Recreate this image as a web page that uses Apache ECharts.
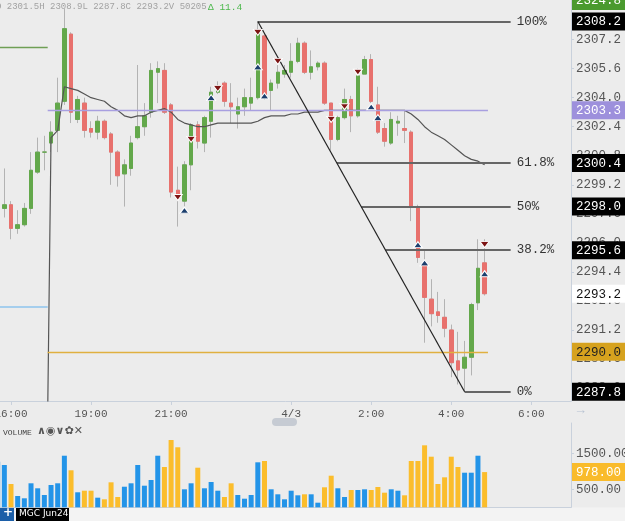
<!DOCTYPE html>
<html lang="en">
<head>
<meta charset="UTF-8">
<title>MGC Jun24 10 min</title>
<script src="https://cdn.jsdelivr.net/npm/echarts@6/dist/echarts.min.js"></script>
<style>
  html, body { margin: 0; padding: 0; background: #ececec; }
  #main { width: 625px; height: 521px; }
</style>
</head>
<body>
<div id="main"></div>
<script>
// 10 minute bars, index 0 = 15:40 (partly off screen), break 17:00-18:00 collapsed, session starts at index 8
var opens = [2296.0, 2297.9, 2298.1, 2296.8, 2297.0, 2297.9, 2299.9, 2301.0, 2301.5, 2302.2,
  2303.8, 2307.5, 2302.8, 2303.7, 2302.3, 2302.1, 2302.7, 2302.0, 2301.0, 2299.8,
  2300.1, 2301.8, 2302.4, 2303.2, 2305.4, 2305.5, 2303.6, 2298.9, 2298.3, 2300.3,
  2302.5, 2301.5, 2302.7, 2304.3, 2304.8, 2303.7, 2303.1, 2303.5, 2303.7, 2304.0,
  2307.4, 2304.4, 2304.8, 2305.3, 2305.4, 2306.0, 2307.0, 2305.4, 2305.7, 2305.9,
  2303.7, 2301.7, 2302.9, 2303.9, 2303.0, 2305.3, 2306.1, 2303.6, 2302.3, 2301.5,
  2302.6, 2302.3, 2302.1, 2298.0, 2294.8, 2292.9, 2292.2, 2291.9, 2291.2, 2289.5,
  2289.1, 2289.7, 2292.7, 2294.9];
var closes = [2297.8, 2298.1, 2296.8, 2297.0, 2297.9, 2300.0, 2301.0, 2301.0, 2302.1, 2303.7,
  2307.8, 2303.2, 2303.9, 2302.2, 2302.1, 2302.7, 2301.8, 2301.0, 2299.7, 2300.3,
  2301.5, 2302.4, 2303.0, 2305.5, 2305.6, 2303.2, 2298.8, 2298.5, 2300.3, 2302.5,
  2301.6, 2302.9, 2304.3, 2304.6, 2303.8, 2303.5, 2303.5, 2304.0, 2304.0, 2307.6,
  2304.1, 2304.8, 2305.4, 2305.5, 2306.0, 2307.0, 2305.4, 2305.7, 2305.9, 2303.7,
  2301.7, 2302.9, 2303.9, 2303.0, 2305.2, 2306.1, 2303.8, 2302.1, 2301.6, 2302.8,
  2302.7, 2302.2, 2298.0, 2295.2, 2293.0, 2292.1, 2292.0, 2291.3, 2289.4, 2289.0,
  2289.7, 2292.6, 2294.6, 2293.2];
var lows = [2295.8, 2297.4, 2296.2, 2296.5, 2296.9, 2297.6, 2299.8, 2300.0, 2301.0, 2301.0,
  2303.6, 2302.6, 2302.6, 2301.8, 2301.8, 2301.7, 2301.7, 2299.2, 2299.1, 2298.0,
  2299.7, 2301.7, 2301.9, 2302.9, 2303.7, 2303.1, 2298.5, 2296.9, 2298.0, 2298.9,
  2301.2, 2301.0, 2301.8, 2304.2, 2303.5, 2302.6, 2302.3, 2303.0, 2303.3, 2303.9,
  2303.9, 2303.3, 2304.5, 2305.1, 2305.1, 2305.9, 2305.3, 2305.0, 2305.5, 2303.6,
  2301.1, 2301.6, 2302.8, 2302.1, 2302.9, 2305.3, 2303.7, 2302.0, 2301.3, 2301.4,
  2301.9, 2301.5, 2297.2, 2294.9, 2290.5, 2291.4, 2291.6, 2290.8, 2288.6, 2288.2,
  2287.8, 2288.7, 2292.3, 2293.1];
var highs = [2298.1, 2300.1, 2298.3, 2297.8, 2298.2, 2301.0, 2301.8, 2301.9, 2302.7, 2305.1,
  2308.9, 2307.6, 2304.1, 2304.0, 2302.7, 2303.0, 2302.8, 2302.1, 2301.1, 2300.6,
  2301.9, 2305.8, 2303.7, 2305.9, 2306.0, 2305.9, 2303.7, 2300.2, 2300.5, 2302.6,
  2302.7, 2303.0, 2304.6, 2304.9, 2304.9, 2304.8, 2304.0, 2304.5, 2305.1, 2308.2,
  2307.5, 2305.0, 2305.8, 2305.8, 2307.0, 2307.3, 2307.1, 2306.6, 2306.0, 2306.0,
  2303.7, 2303.0, 2304.5, 2304.1, 2305.6, 2306.3, 2306.4, 2304.6, 2302.6, 2303.2,
  2303.0, 2303.3, 2302.2, 2298.1, 2295.6, 2294.0, 2293.3, 2292.9, 2291.5, 2291.1,
  2290.6, 2292.7, 2296.2, 2296.2];
var volumes = [1267, 1175, 647, 314, 250, 667, 528, 342, 619, 667,
  1433, 1028, 417, 461, 461, 267, 222, 694, 286, 572,
  667, 1175, 600, 758, 1433, 1119, 1869, 1667, 500, 667,
  1100, 528, 703, 461, 286, 667, 342, 239, 342, 1250,
  1286, 500, 361, 222, 461, 333, 361, 361, 128, 556,
  878, 528, 286, 481, 481, 500, 481, 564, 406, 500,
  461, 333, 1286, 1286, 1722, 1406, 647, 833, 1406, 1119,
  961, 961, 1433, 978];
// session vwap (first point is where the line comes up from below)
var vwap = [null, null, null, null, null, null, null, 2271.6, 2301.8, 2302.2,
  2304.6, 2304.5, 2304.4, 2304.2, 2304.0, 2303.9, 2303.8, 2303.5, 2303.3, 2303.0,
  2302.9, 2303.0, 2303.0, 2303.2, 2303.3, 2303.4, 2303.2, 2302.8, 2302.6, 2302.5,
  2302.4, 2302.4, 2302.5, 2302.6, 2302.6, 2302.6, 2302.6, 2302.6, 2302.6, 2302.7,
  2302.9, 2303.0, 2303.0, 2303.0, 2303.1, 2303.1, 2303.2, 2303.2, 2303.2, 2303.3,
  2303.3, 2303.3, 2303.3, 2303.3, 2303.3, 2303.3, 2303.3, 2303.3, 2303.3, 2303.3,
  2303.3, 2303.3, 2303.1, 2302.8, 2302.4, 2302.1, 2301.9, 2301.7, 2301.4, 2301.1,
  2300.8, 2300.6, 2300.5, 2300.3];

// signal arrows
var upArrowIdx = [28, 32, 39, 40, 56, 57, 63, 64, 73];
var upArrowPrice = [2297.8, 2304.0, 2305.7, 2304.1, 2303.5, 2302.9, 2295.9, 2294.9, 2294.3];
var downArrowIdx = [27, 29, 33, 39, 42, 50, 52, 54, 73];
var downArrowPrice = [2298.5, 2301.7, 2304.5, 2307.6, 2306.0, 2302.8, 2303.5, 2305.4, 2295.9];

// fib retracement, drawn from the high bar to the low bar
var fibHighIdx = 39, fibLowIdx = 70;
var fibLevels = [2308.2, 2300.4, 2298.0, 2295.6, 2287.8];
var fibNames = ['100%', '61.8%', '50%', '38.2%', '0%'];

// other horizontal levels
var prevHigh = 2306.8, prevLow = 2292.5;
var purpleLevel = 2303.3, goldLevel = 2290.0;

// axis
var timeTickIdx = [2, 14, 26, 44, 56, 68, 80];
var timeTickLabels = ['16:00', '19:00', '21:00', '4/3', '2:00', '4:00', '6:00'];
var priceTicks = [2288.0, 2289.6, 2291.2, 2292.8, 2294.4, 2296.0, 2297.6, 2299.2,
  2300.8, 2302.4, 2304.0, 2305.6, 2307.2];
var volTicks = [500, 1000, 1500];
var tagValues = [2308.2, 2303.3, 2300.4, 2298.0, 2295.6, 2293.2, 2290.0, 2287.8];
var tagKinds = ['k', 'p', 'k', 'k', 'k', 'w', 'g', 'k'];
var offChartTag = '2324.8';
var lastVolTag = 978;
var sessionVol = 50205, changeText = '\u0394 11.4';

var sessionStart = 8;
var mono = '"Liberation Mono", "DejaVu Sans Mono", monospace';
var UP = '#63a84b', DOWN = '#e8716d', WICK = '#b3b3b3';

var wickData = [], bodyData = [], volData = [], vwapData = [];
for (var i = 0; i < opens.length; i++) {
  wickData.push([i, opens[i], closes[i], lows[i], highs[i]]);
  bodyData.push([i, opens[i], closes[i], Math.min(opens[i], closes[i]), Math.max(opens[i], closes[i])]);
  var up = closes[i] >= opens[i];
  volData.push({ value: [i, volumes[i]], itemStyle: { color: up ? '#2394e8' : '#fbbd2c' } });
  vwapData.push([i, vwap[i]]);
}
var upData = upArrowIdx.map(function (k, j) { return [k, upArrowPrice[j]]; });
var downData = downArrowIdx.map(function (k, j) { return [k, downArrowPrice[j]]; });

var sH = Math.max.apply(null, highs.slice(sessionStart));
var sL = Math.min.apply(null, lows.slice(sessionStart));
var headerText = 'O ' + opens[sessionStart].toFixed(1) + 'H ' + sH.toFixed(1) + 'L ' + sL.toFixed(1) +
  'C ' + closes[closes.length - 1].toFixed(1) + 'V ' + sessionVol;

var xMin = 0.35, xMax = 85.95;
var yMin = 2287.29, yMax = 2309.38;

function seg(x1, y1, x2, y2, color, width, name) {
  return [{ coord: [x1, y1], name: name || '', lineStyle: { color: color, width: width, type: 'solid' } },
          { coord: [x2, y2] }];
}
var levelLines = [];
var breakIdx = 7.5, endIdx = 73.5, fibEnd = 76.9;
levelLines.push(seg(xMin, prevHigh, breakIdx, prevHigh, '#6f9f55', 1.3));
levelLines.push(seg(xMin, prevLow, breakIdx, prevLow, '#8ec4ee', 1.5));
levelLines.push(seg(breakIdx, purpleLevel, endIdx, purpleLevel, '#a89fe0', 1.3));
levelLines.push(seg(breakIdx, goldLevel, endIdx, goldLevel, '#e0b040', 1.3));
var fHi = fibLevels[0], fLo = fibLevels[fibLevels.length - 1];
fibLevels.forEach(function (lv, j) {
  var startK = fibHighIdx + (fibLowIdx - fibHighIdx) * (fHi - lv) / (fHi - fLo);
  levelLines.push(seg(startK, lv, fibEnd, lv, '#666', 1.8, fibNames[j]));
});
levelLines.push(seg(fibHighIdx, fHi, fibLowIdx, fLo, '#222', 1.2));

var tagRich = {
  k: { backgroundColor: '#000', color: '#fff' },
  p: { backgroundColor: '#9d90dc', color: '#fff' },
  w: { backgroundColor: '#fff', color: '#111' },
  g: { backgroundColor: '#d6a21e', color: '#222' },
  v: { backgroundColor: '#f9bb2b', color: '#fff' }
};
Object.keys(tagRich).forEach(function (key) {
  tagRich[key].fontFamily = mono;
  tagRich[key].fontSize = 12.5;
  tagRich[key].padding = [3, 4, 2, 4];
});

var chart = echarts.init(document.getElementById('main'));
var option = {
  backgroundColor: '#ececec',
  animation: false,
  grid: [
    { left: 0, right: 54, top: 0, height: 401, containLabel: false, outerBoundsMode: 'none' },
    { left: 0, right: 54, top: 423, height: 84.3, containLabel: false, outerBoundsMode: 'none' }
  ],
  xAxis: [
    {
      type: 'value', gridIndex: 0, min: xMin, max: xMax,
      axisLine: { show: true, lineStyle: { color: '#c9d1dc' } },
      axisTick: { show: true, length: 4, customValues: timeTickIdx, lineStyle: { color: '#c9d1dc' } },
      axisLabel: {
        customValues: timeTickIdx, color: '#555', fontFamily: mono, fontSize: 11, margin: 8,
        formatter: function (v) { return timeTickLabels[timeTickIdx.indexOf(v)] || ''; }
      },
      splitLine: { show: false }
    },
    {
      type: 'value', gridIndex: 1, min: xMin, max: xMax, position: 'top',
      axisLine: { show: true, lineStyle: { color: '#c9d1dc' } },
      axisTick: { show: false }, axisLabel: { show: false }, splitLine: { show: false }
    }
  ],
  yAxis: [
    {
      type: 'value', gridIndex: 0, position: 'right', min: yMin, max: yMax,
      axisLine: { show: true, lineStyle: { color: '#c9d1dc' } },
      axisTick: { show: true, length: 3, customValues: priceTicks, lineStyle: { color: '#c9d1dc' } },
      axisLabel: {
        customValues: priceTicks, color: '#555', fontFamily: mono, fontSize: 12.5, margin: 5,
        formatter: function (v) { return v.toFixed(1); }
      },
      splitLine: { show: false }
    },
    {
      type: 'value', gridIndex: 0, position: 'right', min: yMin, max: yMax, z: 3,
      axisLine: { show: false }, axisTick: { show: false }, splitLine: { show: false },
      axisLabel: {
        customValues: tagValues, margin: 1, rich: tagRich,
        formatter: function (v) {
          var j = 0, best = 1e9;
          tagValues.forEach(function (t, n) { if (Math.abs(t - v) < best) { best = Math.abs(t - v); j = n; } });
          return '{' + tagKinds[j] + '|' + tagValues[j].toFixed(1) + '}';
        }
      }
    },
    {
      type: 'value', gridIndex: 1, position: 'right', min: 0, max: 2342,
      axisLine: { show: true, lineStyle: { color: '#c9d1dc' } },
      axisTick: { show: true, length: 3, customValues: volTicks, lineStyle: { color: '#c9d1dc' } },
      axisLabel: {
        customValues: volTicks, color: '#555', fontFamily: mono, fontSize: 12.5, margin: 5,
        formatter: function (v) { return v.toFixed(2); }
      },
      splitLine: { show: false }
    },
    {
      type: 'value', gridIndex: 1, position: 'right', min: 0, max: 2342, z: 3,
      axisLine: { show: false }, axisTick: { show: false }, splitLine: { show: false },
      axisLabel: {
        customValues: [lastVolTag], margin: 1, rich: tagRich,
        formatter: function (v) { return '{v|' + v.toFixed(2) + '}'; }
      }
    }
  ],
  series: [
    {
      type: 'candlestick', xAxisIndex: 0, yAxisIndex: 0, data: wickData, barWidth: 4, z: 2,
      itemStyle: {
        color: 'rgba(0,0,0,0)', color0: 'rgba(0,0,0,0)',
        borderColor: WICK, borderColor0: WICK, borderColorDoji: WICK, borderWidth: 1
      }
    },
    {
      type: 'candlestick', xAxisIndex: 0, yAxisIndex: 0, data: bodyData, barWidth: 4, z: 3,
      itemStyle: {
        color: UP, color0: DOWN, borderColor: UP, borderColor0: DOWN, borderColorDoji: UP, borderWidth: 1
      }
    },
    {
      type: 'line', xAxisIndex: 0, yAxisIndex: 0, data: vwapData, showSymbol: false, z: 4,
      lineStyle: { color: '#555', width: 1.2 }
    },
    {
      type: 'line', xAxisIndex: 0, yAxisIndex: 0, data: [], z: 5,
      markLine: {
        silent: true, symbol: ['none', 'none'], animation: false,
        label: {
          show: true, position: 'end', distance: 6, color: '#333', fontFamily: mono, fontSize: 12.5,
          formatter: function (p) { return p.name; }
        },
        data: levelLines
      }
    },
    {
      type: 'scatter', xAxisIndex: 0, yAxisIndex: 0, data: upData, z: 6,
      symbol: 'triangle', symbolSize: [9, 6],
      itemStyle: { color: '#1c3f6e', borderColor: '#fff', borderWidth: 1, opacity: 1 }
    },
    {
      type: 'scatter', xAxisIndex: 0, yAxisIndex: 0, data: downData, z: 6,
      symbol: 'triangle', symbolSize: [9, 6], symbolRotate: 180,
      itemStyle: { color: '#7d1414', borderColor: '#fff', borderWidth: 1, opacity: 1 }
    },
    {
      type: 'bar', xAxisIndex: 1, yAxisIndex: 2, data: volData, barWidth: 5
    }
  ],
  graphic: [
    { type: 'text', left: -4, top: 2, style: { text: headerText, fill: '#a2a2a2', font: '9px ' + mono } },
    { type: 'text', left: 208, top: 2, style: { text: changeText, fill: '#4cb84c', font: '9.5px ' + mono } },
    { type: 'rect', shape: { x: 572, y: -9, width: 53, height: 19 }, style: { fill: '#4a9a2e' } },
    { type: 'text', x: 576, y: -6, style: { text: offChartTag, fill: '#fff', font: '12.5px ' + mono } },
    { type: 'text', x: 574, y: 404, style: { text: '\u2192', fill: '#b8c3d2', font: 'bold 13px sans-serif' } },
    { type: 'rect', shape: { x: 272, y: 418, width: 25, height: 8, r: 4 }, style: { fill: '#c6cbd3' } },
    { type: 'text', x: 3, y: 429, style: { text: 'VOLUME', fill: '#444', font: '8px ' + mono } },
    { type: 'text', x: 37, y: 426, style: { text: '\u2227\u25c9\u2228\u273f\u2715', fill: '#555', font: 'bold 11px "DejaVu Sans"' } },
    { type: 'rect', shape: { x: 0, y: 507.5, width: 625, height: 14 }, style: { fill: '#f3f3f3' } },
    { type: 'rect', shape: { x: 0, y: 507, width: 14, height: 14 }, style: { fill: '#1c5fa8' } },
    { type: 'text', x: 3, y: 507, style: { text: '+', fill: '#fff', font: 'bold 12px "DejaVu Sans"' } },
    { type: 'rect', shape: { x: 16, y: 507, width: 53, height: 14 }, style: { fill: '#000' } },
    { type: 'text', x: 19, y: 509, style: { text: 'MGC Jun24', fill: '#fff', font: '9px "DejaVu Sans"' } }
  ]
};
chart.setOption(option);
</script>
</body>
</html>
